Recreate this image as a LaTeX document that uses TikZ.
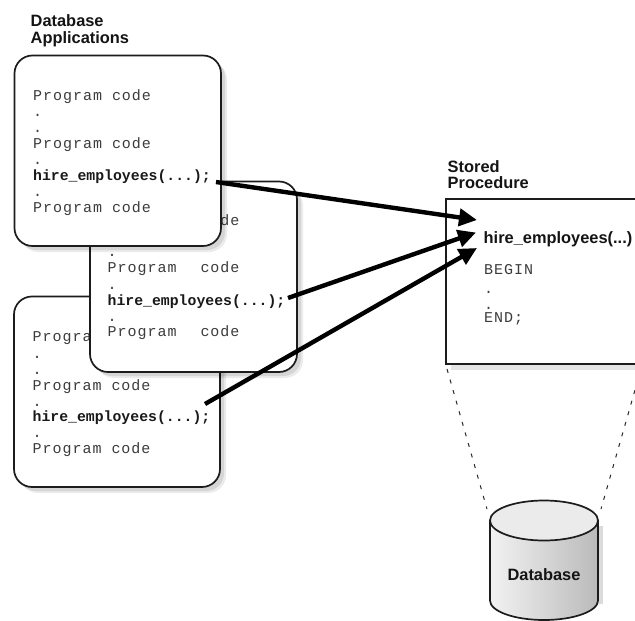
\documentclass[tikz,border=0pt]{standalone}
\usepackage{fontspec}
\setmainfont{Liberation Sans}
\newfontfamily\codefont[LetterSpace=6.5]{Liberation Mono}
\newfontfamily\callfont{Liberation Mono}
\usetikzlibrary{arrows.meta,calc}
\definecolor{edge}{HTML}{1C1C1C}
\definecolor{codegray}{HTML}{3C3C3C}
\tikzset{
  x=1pt,y=-1pt,
  appbox/.style={draw=edge,line width=1.7pt,fill=white,rounded corners=18pt},
  shadowA/.style={fill=black,opacity=0.08,rounded corners=18pt},
  shadowB/.style={fill=black,opacity=0.09,rounded corners=18pt},
  title/.style={inner sep=0pt,anchor=base west,font=\fontsize{16.4}{18}\selectfont\bfseries,text=black!92},
  code/.style={inner sep=0pt,anchor=base west,font=\fontsize{15}{18}\codefont,text=codegray},
  call/.style={inner sep=0pt,anchor=base west,font=\fontsize{14.8}{18}\callfont\bfseries,text=black!90},
  callarrow/.style={line width=4.4pt,draw=black,-{Triangle[length=18pt,width=17pt]}},
  linkdash/.style={draw=black!85,line width=1pt,dash pattern=on 4pt off 7pt},
}
\newcommand{\boxwithshadow}[4]{%
  \fill[shadowA] (#1+6,#2+6) rectangle (#3+6,#4+6);
  \fill[shadowB] (#1+4,#2+4) rectangle (#3+4,#4+4);
  \draw[appbox] (#1,#2) rectangle (#3,#4);}
\begin{document}
\begin{tikzpicture}
\useasboundingbox (0,0) rectangle (635,621);
\clip (0,0) rectangle (635,621);
\fill[white] (0,0) rectangle (635,621);

% dashed links
\coordinate (sl) at (447,369);
\coordinate (sr) at (641,369);

% cylinder
\fill[black!14] (596,526) rectangle (603,604);
\shade[left color=black!5,right color=black!27,draw=edge,line width=1.7pt]
  (490,520.5) -- (490,600.5) arc[start angle=180,end angle=0,x radius=54,y radius=19.5]
  -- (598,520.5) -- cycle;
\draw[draw=edge,line width=1.7pt,fill=black!8] (544,520.5) ellipse[x radius=54,y radius=20];
\node[title,anchor=base] (dbl) at (544,580.7) {Database};
\coordinate (dl) at (487,509);
\coordinate (dr) at (601,509);
\draw[linkdash] (sl) -- (dl);
\draw[linkdash] (sr) -- (dr);

% box 3
\boxwithshadow{14}{296.5}{220}{487}
\node[code] (c31) at (32.5,341.7) {Program code};
\node[code] (d31) at (32.5,358) {.};
\node[code] (d32) at (32.5,374) {.};
\node[code] (c32) at (32.5,390) {Program code};
\node[code] (d33) at (32.5,406) {.};
\node[call] (h3) at (32.5,421.7) {hire\_employees(...);};
\node[code] (d34) at (32.5,437.7) {.};
\node[code] (c33) at (32.5,453) {Program code};

% box 2
\boxwithshadow{90}{181.5}{297}{372}
\node[code] (c21) at (107.5,225) {Program\hspace{14pt} code};
\node[code] (d22) at (107.5,256.7) {.};
\node[code] (c22) at (107.5,272.7) {Program\hspace{14pt} code};
\node[code] (d23) at (107.5,289) {.};
\node[call] (h2) at (107.5,305) {hire\_employees(...);};
\node[code] (d24) at (107.5,321) {.};
\node[code] (c23) at (107.5,336.7) {Program\hspace{14pt} code};

% box 1
\boxwithshadow{14.5}{55.5}{221}{246}
\node[code] (c11) at (33,100) {Program code};
\node[code] (d11) at (33,116.7) {.};
\node[code] (d12) at (33,132.7) {.};
\node[code] (c12) at (33,148) {Program code};
\node[code] (d13) at (33,164) {.};
\node[call] (h1) at (33,180.7) {hire\_employees(...);};
\node[code] (d14) at (33,196.7) {.};
\node[code] (c13) at (33,212) {Program code};

% titles
\node[title] (tapp1) at (30.5,26) {Database};
\node[title] (tapp2) at (30.5,43) {Applications};
\node[title] (tsp1) at (447.5,172) {Stored};
\node[title] (tsp2) at (447.5,188) {Procedure};

% stored procedure box
\fill[black!10] (451,205) rectangle (640,370);
\draw[draw=edge,line width=1.7pt,fill=white] (446,199) rectangle (645,364);
\node[title] (proc) at (483.5,243) {hire\_employees(...)};
\node[code] (b1) at (484,274) {BEGIN};
\node[code] (b2) at (484,293) {.};
\node[code] (b3) at (484,309) {.};
\node[code] (b4) at (484,322) {END;};

% arrows
\coordinate (s1) at (216,182);
\coordinate (s2) at (288,298);
\coordinate (s3) at (205,404);
\coordinate (t1) at (477,220);
\coordinate (t2) at (476,232.5);
\coordinate (t3) at (477,248);
\draw[callarrow] (s1) -- (t1);
\draw[callarrow] (s2) -- (t2);
\draw[callarrow] (s3) -- (t3);
\end{tikzpicture}
\end{document}
